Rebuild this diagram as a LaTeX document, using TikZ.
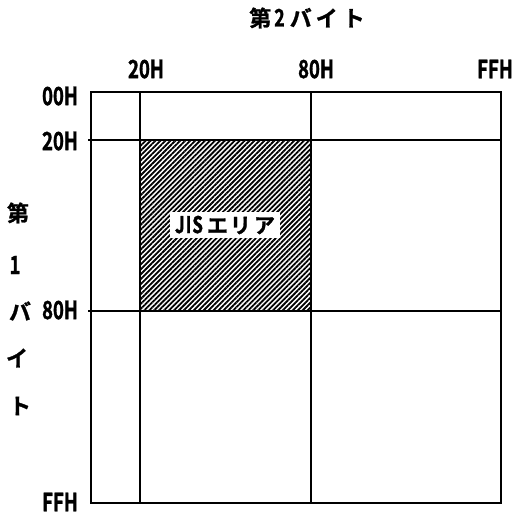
\documentclass[tikz,border=0pt]{standalone}
\usepackage{fontspec}
\setmainfont{Noto Sans CJK JP}[BoldFont={* Bold}]
\newfontfamily\labfont{Noto Sans CJK JP Bold}[FakeStretch=0.74,FakeBold=1.3]
\newfontfamily\jpfont{Noto Sans CJK JP Bold}[FakeBold=1.2]
\usetikzlibrary{patterns.meta}
\begin{document}
\begin{tikzpicture}[x=1pt,y=-1pt,
  lab/.style={font=\labfont\fontsize{25}{25}\selectfont, inner sep=0pt},
  jlab/.style={font=\jpfont\fontsize{22}{22}\selectfont, inner sep=0pt},
  grid/.style={line width=1.3pt},
  hatch/.style={pattern={Lines[angle=45,distance=3.5pt,line width=1.8pt]}}]
\useasboundingbox (0,0) rectangle (514,514);
% hatched JIS area
\path[hatch] (140,140) rectangle (311,311);
% frame and grid
\draw[grid] (91,92) rectangle (501,503);
\draw[grid] (140,92) -- (140,503);
\draw[grid] (311,92) -- (311,503);
\draw[grid] (88,140) -- (501,140);
\draw[grid] (88,311) -- (501,311);
\node[fill=white, inner xsep=5pt, inner ysep=3.5pt, font=\jpfont\fontsize{21}{21}\selectfont] (jis) at (225,225)
  {{\labfont\fontsize{23}{23}\selectfont J\hspace{1pt}I\hspace{1pt}S}\hspace{4pt}エ\hspace{2pt}リ\hspace{3pt}ア};
% top labels
\node[jlab] (t2) at (307,18) {第\hspace{3pt}{\labfont\fontsize{24}{24}\selectfont 2}\hspace{5pt}バ\hspace{4pt}イ\hspace{5pt}ト};
\node[lab] (c20) at (146,69) {20H};
\node[lab] (c80) at (316,69) {80H};
\node[lab] (cff) at (495,69) {FFH};
% left labels
\node[lab] (r00) at (60,96) {00H};
\node[lab] (r20) at (60,141) {20H};
\node[lab] (r80) at (60,310) {80H};
\node[lab] (rff) at (60,502) {FFH};
% vertical title
\node[jlab] (v1) at (18,213) {第};
\node[lab] (v2) at (15,265) {1};
\node[jlab] (v3) at (20,311) {バ};
\node[jlab] (v4) at (17,358) {イ};
\node[jlab] (v5) at (20,406) {ト};
\end{tikzpicture}
\end{document}
